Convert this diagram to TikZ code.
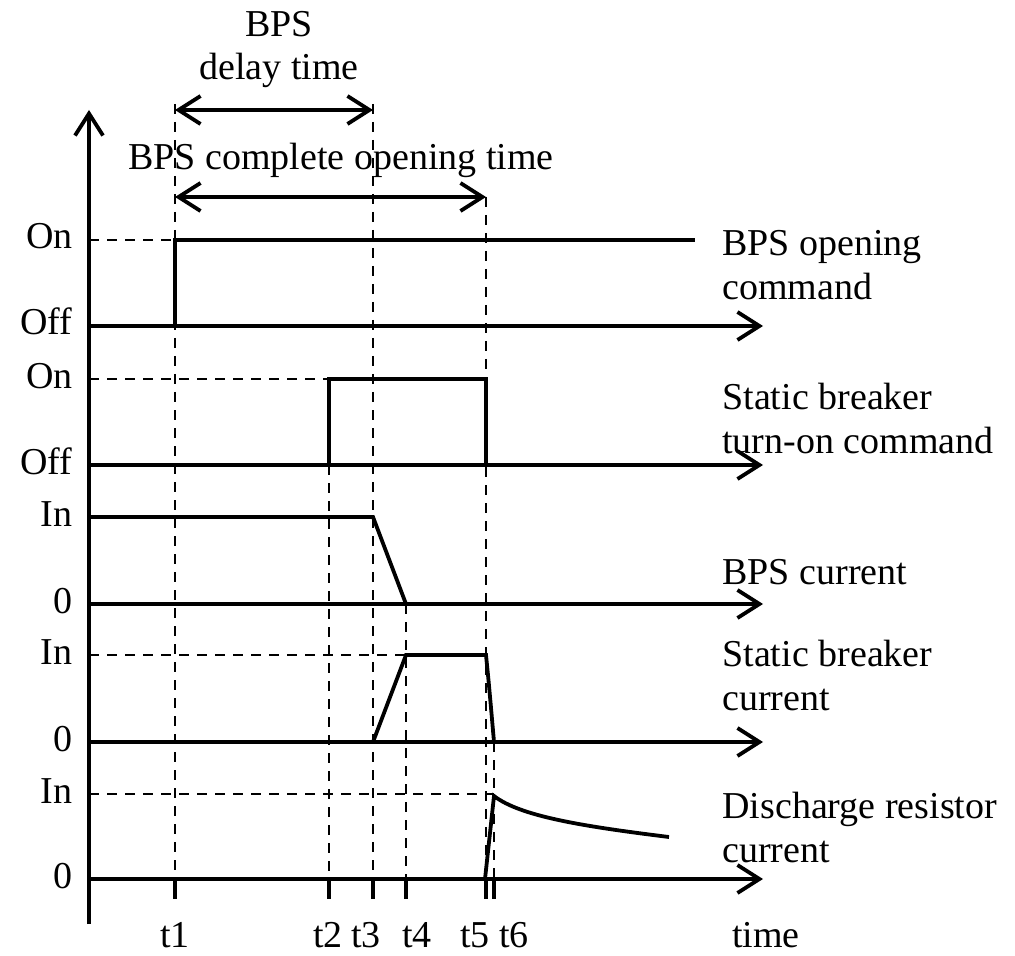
\documentclass[tikz,border=0pt]{standalone}
\usepackage{fontspec}
\setmainfont{Liberation Serif}
\usetikzlibrary{arrows.meta}
\begin{document}
\begin{tikzpicture}[x=0.5pt,y=-0.5pt,
  txt/.style={font=\fontsize{19}{22}\selectfont, inner sep=0pt},
  lvl/.style={txt, anchor=base east},
  sidelbl/.style={txt, anchor=base west, align=left},
  tlbl/.style={txt, anchor=base},
  axisline/.style={line width=1.9pt, -{Straight Barb[length=11pt,width=14pt,line width=1.9pt]}},
  sig/.style={line width=1.9pt, line join=miter},
  guide/.style={line width=0.7pt, dash pattern=on 5pt off 4pt},
  tick/.style={line width=1.9pt},
  span/.style={line width=1.9pt, {Straight Barb[length=11pt,width=14pt,line width=1.9pt]}-{Straight Barb[length=11pt,width=14pt,line width=1.9pt]}}
]
\useasboundingbox (0,0) rectangle (1015,956);

% axes
\coordinate (O) at (89,924);
\coordinate (Ytop) at (89,110);
\draw[axisline] (O) -- (Ytop);
\foreach \y/\n in {326/1,465/2,604/3,742/4,879/5}{
  \coordinate (s\n) at (89,\y);
  \coordinate (e\n) at (763,\y);
  \draw[axisline] (s\n) -- (e\n);
}

% guide lines (dashed)
\coordinate (g1a) at (175,104);  \coordinate (g1b) at (175,879);
\coordinate (g2a) at (329,465);  \coordinate (g2b) at (329,879);
\coordinate (g3a) at (373,104);  \coordinate (g3b) at (373,879);
\coordinate (g4a) at (406,604);  \coordinate (g4b) at (406,879);
\coordinate (g5a) at (486,197);  \coordinate (g5b) at (486,879);
\coordinate (g6a) at (494,742);  \coordinate (g6b) at (494,879);
\foreach \n in {1,...,6}{ \draw[guide] (g\n a) -- (g\n b); }

% horizontal dashed level guides
\coordinate (h1a) at (89,240); \coordinate (h1b) at (175,240);
\coordinate (h2a) at (89,379); \coordinate (h2b) at (329,379);
\coordinate (h3a) at (89,655); \coordinate (h3b) at (406,655);
\coordinate (h4a) at (89,794); \coordinate (h4b) at (494,794);
\foreach \n in {1,...,4}{ \draw[guide] (h\n a) -- (h\n b); }

% ticks
\foreach \n in {1,...,6}{ \draw[tick] (g\n b) -- ++(0,20); }

% span arrows
\coordinate (d1) at (175,110); \coordinate (d2) at (373,110);
\draw[span] (d1) -- (d2);
\coordinate (c1) at (175,197); \coordinate (c2) at (486,197);
\draw[span] (c1) -- (c2);
\node[tlbl] (bps) at (279,37) {BPS};
\node[tlbl] (delay) at (279,80) {delay time};
\node[tlbl] (complete) at (341,170) {BPS complete opening time};

% signal 1: BPS opening command
\coordinate (p1a) at (175,326); \coordinate (p1b) at (175,240); \coordinate (p1c) at (695,240);
\draw[sig] (p1a) -- (p1b) -- (p1c);
% signal 2: static breaker turn-on command
\coordinate (p2a) at (329,465); \coordinate (p2b) at (329,379);
\coordinate (p2c) at (486,379); \coordinate (p2d) at (486,465);
\draw[sig] (p2a) -- (p2b) -- (p2c) -- (p2d);
% signal 3: BPS current
\coordinate (p3a) at (89,517); \coordinate (p3b) at (373,517); \coordinate (p3c) at (406,604);
\draw[sig] (p3a) -- (p3b) -- (p3c);
% signal 4: static breaker current
\coordinate (p4a) at (373,742); \coordinate (p4b) at (406,655);
\coordinate (p4c) at (486,655); \coordinate (p4d) at (494,742);
\draw[sig] (p4a) -- (p4b) -- (p4c) .. controls (489,685) .. (p4d);
% signal 5: discharge resistor current
\coordinate (p5a) at (485,879); \coordinate (p5b) at (494,796); \coordinate (p5c) at (669,837);
\draw[sig] (p5a) -- (p5b) .. controls (520,816) and (580,826) .. (p5c);

% level labels
\node[lvl] (on1) at (73,249) {On};
\node[lvl] (off1) at (73,335) {Off};
\node[lvl] (on2) at (73,388) {On};
\node[lvl] (off2) at (73,474) {Off};
\node[lvl] (in1) at (73,526) {In};
\node[lvl] (z1) at (73,613) {0};
\node[lvl] (in2) at (73,664) {In};
\node[lvl] (z2) at (73,751) {0};
\node[lvl] (in3) at (73,803) {In};
\node[lvl] (z3) at (73,888) {0};

% side labels (base anchor = baseline of last line)
\node[sidelbl] (l1) at (722,300) {BPS opening\\command};
\node[sidelbl] (l2) at (722,453) {Static breaker\\turn-on command};
\node[sidelbl] (l3) at (722,584) {BPS current};
\node[sidelbl] (l4) at (722,710) {Static breaker\\current};
\node[sidelbl] (l5) at (722,862) {Discharge resistor\\current};

% time labels
\node[tlbl] (t1) at (175,947) {t1};
\node[tlbl] (t2) at (328,947) {t2};
\node[tlbl] (t3) at (366,947) {t3};
\node[tlbl] (t4) at (417,947) {t4};
\node[tlbl] (t5) at (475,947) {t5};
\node[tlbl] (t6) at (514,947) {t6};
\node[tlbl] (time) at (766,947) {time};
\end{tikzpicture}
\end{document}
